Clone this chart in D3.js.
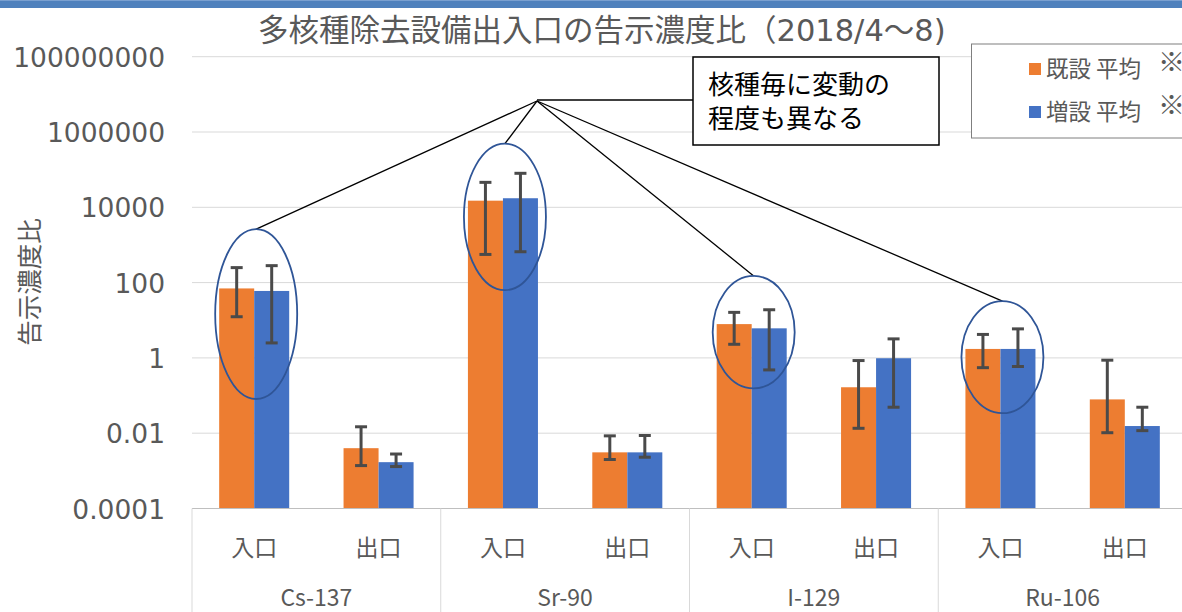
<!DOCTYPE html>
<html><head><meta charset="utf-8">
<script src="https://cdn.jsdelivr.net/npm/d3@7/dist/d3.min.js"></script>
<style>
html,body{margin:0;padding:0;background:#fff;}
svg{display:block;}
</style></head>
<body>
<svg id="c" width="1182" height="612"></svg>
<script>
// ---- data ----
const titleMain = "多核種除去設備出入口の告示濃度比（";
const titleDate = ["2018/4", "～", "8)"];
const yTitle = "告示濃度比";
const groups = ["Cs-137", "Sr-90", "I-129", "Ru-106"];
const positions = ["入口", "出口"];
const seriesNames = ["既設 平均", "増設 平均"];
const seriesColors = ["#ed7d31", "#4472c4"];
const tickValues = [1e-4, 1e-2, 1, 1e2, 1e4, 1e6, 1e8];
const tickLabels = ["0.0001", "0.01", "1", "100", "10000", "1000000", "100000000"];
// values per subcategory: Cs入口, Cs出口, Sr入口, Sr出口, I入口, I出口, Ru入口, Ru出口
const existingMean = [70, 0.004, 15000, 0.0031, 7.9, 0.166, 1.73, 0.079];
const existingHigh = [250, 0.0148, 46000, 0.0085, 16.2, 0.85, 4.2, 0.87];
const existingLow  = [12.4, 0.00138, 560, 0.0020, 2.3, 0.0135, 0.55, 0.0103];
const addedMean = [60, 0.0017, 17400, 0.0031, 6.1, 0.98, 1.73, 0.0155];
const addedHigh = [282, 0.0028, 80000, 0.0087, 19, 3.2, 5.9, 0.049];
const addedLow  = [2.5, 0.0013, 660, 0.0023, 0.48, 0.049, 0.59, 0.0117];
// highlighted (circled) subcategories with their vertical value span
const circledIdx = [0, 2, 4, 6];
const circleTop = [2630, 490000, 150, 32.4];
const circleBottom = [0.081, 63, 0.155, 0.034];
const calloutText = ["核種毎に変動の", "程度も異なる"];

// ---- layout ----
const svg = d3.select("#c");
const W = 1182, H = 612;
const plotL = 192, plotR = 1187, plotT = 56.7, plotB = 508.5;
const textCol = "#595959";
const fontNum = "'DejaVu Sans', Verdana, sans-serif";
const fontJP = "'Noto Sans CJK JP', 'Noto Sans', sans-serif";

// top band
svg.append("rect").attr("x",0).attr("y",0).attr("width",W).attr("height",8).attr("fill","#4f81bd");
svg.append("rect").attr("x",0).attr("y",0).attr("width",W).attr("height",1).attr("fill","#7aa0d0");

const subKeys = [];
groups.forEach(g => positions.forEach(p => subKeys.push(g + "|" + p)));

const x = d3.scaleBand().domain(subKeys).range([plotL, plotR]).paddingInner(0.437).paddingOuter(0.2185);
const xs = d3.scaleBand().domain([0,1]).range([0, x.bandwidth()]);
const y = d3.scaleLog().domain([1e-4, 1e8]).range([plotB, plotT]);

// gridlines
svg.append("g").selectAll("line").data(tickValues.slice(1)).join("line")
  .attr("x1", plotL).attr("x2", plotR)
  .attr("y1", d => y(d)).attr("y2", d => y(d))
  .attr("stroke", "#d9d9d9").attr("stroke-width", 1);

// y axis labels
const yAxis = d3.axisLeft(y).tickValues(tickValues).tickSize(0).tickPadding(27)
  .tickFormat((d, i) => tickLabels[i]);
const ga = svg.append("g").attr("transform", `translate(${plotL},0)`).call(yAxis);
ga.select(".domain").remove();
ga.selectAll("text").attr("font-family", fontNum).attr("font-size", 26.5).attr("fill", textCol).attr("dy", "0.36em");

// y title
svg.append("text").attr("transform", `translate(39,282) rotate(-90)`)
  .attr("text-anchor","middle").attr("font-family", fontJP).attr("font-size", 25.5)
  .attr("fill", textCol).text(yTitle);

// title
const tt = svg.append("text").attr("x", 258).attr("y", 41).attr("fill", textCol);
tt.append("tspan").attr("font-family", fontJP).attr("font-size", 30.5).text(titleMain);
tt.append("tspan").attr("font-family", fontNum).attr("font-size", 30.5).text(titleDate[0]);
tt.append("tspan").attr("font-family", fontJP).attr("font-size", 30.5).text(titleDate[1]);
tt.append("tspan").attr("font-family", fontNum).attr("font-size", 30.5).text(titleDate[2]);

// bars
const series = [
  {mean: existingMean, hi: existingHigh, lo: existingLow},
  {mean: addedMean, hi: addedHigh, lo: addedLow}
];
const barData = [];
series.forEach((s, si) => s.mean.forEach((v, i) => barData.push({si, i, v, hi: s.hi[i], lo: s.lo[i]})));

svg.append("g").selectAll("rect").data(barData).join("rect")
  .attr("x", d => x(subKeys[d.i]) + xs(d.si))
  .attr("width", xs.bandwidth())
  .attr("y", d => y(d.v))
  .attr("height", d => plotB - y(d.v))
  .attr("fill", d => seriesColors[d.si]);

// error bars
const eb = svg.append("g").attr("stroke", "#4a4a4a").attr("stroke-width", 3);
barData.forEach(d => {
  const cx = x(subKeys[d.i]) + xs(d.si) + xs.bandwidth() / 2;
  eb.append("line").attr("x1", cx).attr("x2", cx).attr("y1", y(d.hi)).attr("y2", y(d.lo));
  eb.append("line").attr("x1", cx - 6).attr("x2", cx + 6).attr("y1", y(d.hi)).attr("y2", y(d.hi));
  eb.append("line").attr("x1", cx - 6).attr("x2", cx + 6).attr("y1", y(d.lo)).attr("y2", y(d.lo));
});

// baseline axis
svg.append("line").attr("x1", plotL).attr("x2", plotR).attr("y1", plotB).attr("y2", plotB)
  .attr("stroke", "#bfbfbf").attr("stroke-width", 1);

// category separators
const groupStep = x.step() * positions.length;
d3.range(groups.length + 1).forEach(k => {
  const gx = plotL + k * groupStep;
  svg.append("line").attr("x1", gx).attr("x2", gx).attr("y1", plotB).attr("y2", H)
    .attr("stroke", "#d9d9d9").attr("stroke-width", 1);
});

// subcategory labels
svg.append("g").selectAll("text").data(subKeys).join("text")
  .attr("x", d => x(d) + x.bandwidth() / 2).attr("y", 556)
  .attr("text-anchor", "middle").attr("font-family", fontJP).attr("font-size", 23)
  .attr("fill", textCol).text(d => d.split("|")[1]);

// group labels
svg.append("g").selectAll("text").data(groups).join("text")
  .attr("x", (d, k) => plotL + (k + 0.5) * groupStep).attr("y", 606)
  .attr("text-anchor", "middle").attr("font-family", fontJP).attr("font-size", 23)
  .attr("fill", textCol).text(d => d);

// callout lines & ellipses
const vx = 537, vy = 101;
const ann = svg.append("g");
circledIdx.forEach((idx, k) => {
  const cx = x(subKeys[idx]) + x.bandwidth() / 2 + 2;
  const t = y(circleTop[k]), b = y(circleBottom[k]);
  ann.append("line").attr("x1", vx).attr("y1", vy).attr("x2", cx).attr("y2", t)
    .attr("stroke", "#000").attr("stroke-width", 1.3);
  ann.append("ellipse").attr("cx", cx).attr("cy", (t + b) / 2).attr("rx", 41).attr("ry", (b - t) / 2)
    .attr("fill", "none").attr("stroke", "#2f5597").attr("stroke-width", 1.8);
});
ann.append("line").attr("x1", vx).attr("y1", vy - 1).attr("x2", 693).attr("y2", vy - 1)
  .attr("stroke", "#000").attr("stroke-width", 1.3);

// callout box
ann.append("rect").attr("x", 693).attr("y", 57).attr("width", 246).attr("height", 88)
  .attr("fill", "#fff").attr("stroke", "#000").attr("stroke-width", 1.5);
ann.selectAll("text.c").data(calloutText).join("text").attr("class","c")
  .attr("x", 708).attr("y", (d, i) => 94 + i * 34)
  .attr("font-family", fontJP).attr("font-size", 26).attr("fill", "#000").text(d => d);

// legend
const lg = svg.append("g");
lg.append("rect").attr("x", 971.5).attr("y", 44).attr("width", 230).attr("height", 94)
  .attr("fill", "#fff").attr("stroke", "#7f7f7f").attr("stroke-width", 1);
seriesNames.forEach((n, i) => {
  const cy = 69 + i * 43;
  lg.append("rect").attr("x", 1029).attr("y", cy - 6).attr("width", 12).attr("height", 12).attr("fill", seriesColors[i]);
  lg.append("text").attr("x", 1046).attr("y", cy + 8).attr("font-family", fontJP).attr("font-size", 22.5)
    .attr("fill", textCol).text(n);
  lg.append("text").attr("x", 1158).attr("y", cy + 3).attr("font-family", fontJP).attr("font-size", 27)
    .attr("fill", textCol).text("※");
});
</script>
</body></html>
